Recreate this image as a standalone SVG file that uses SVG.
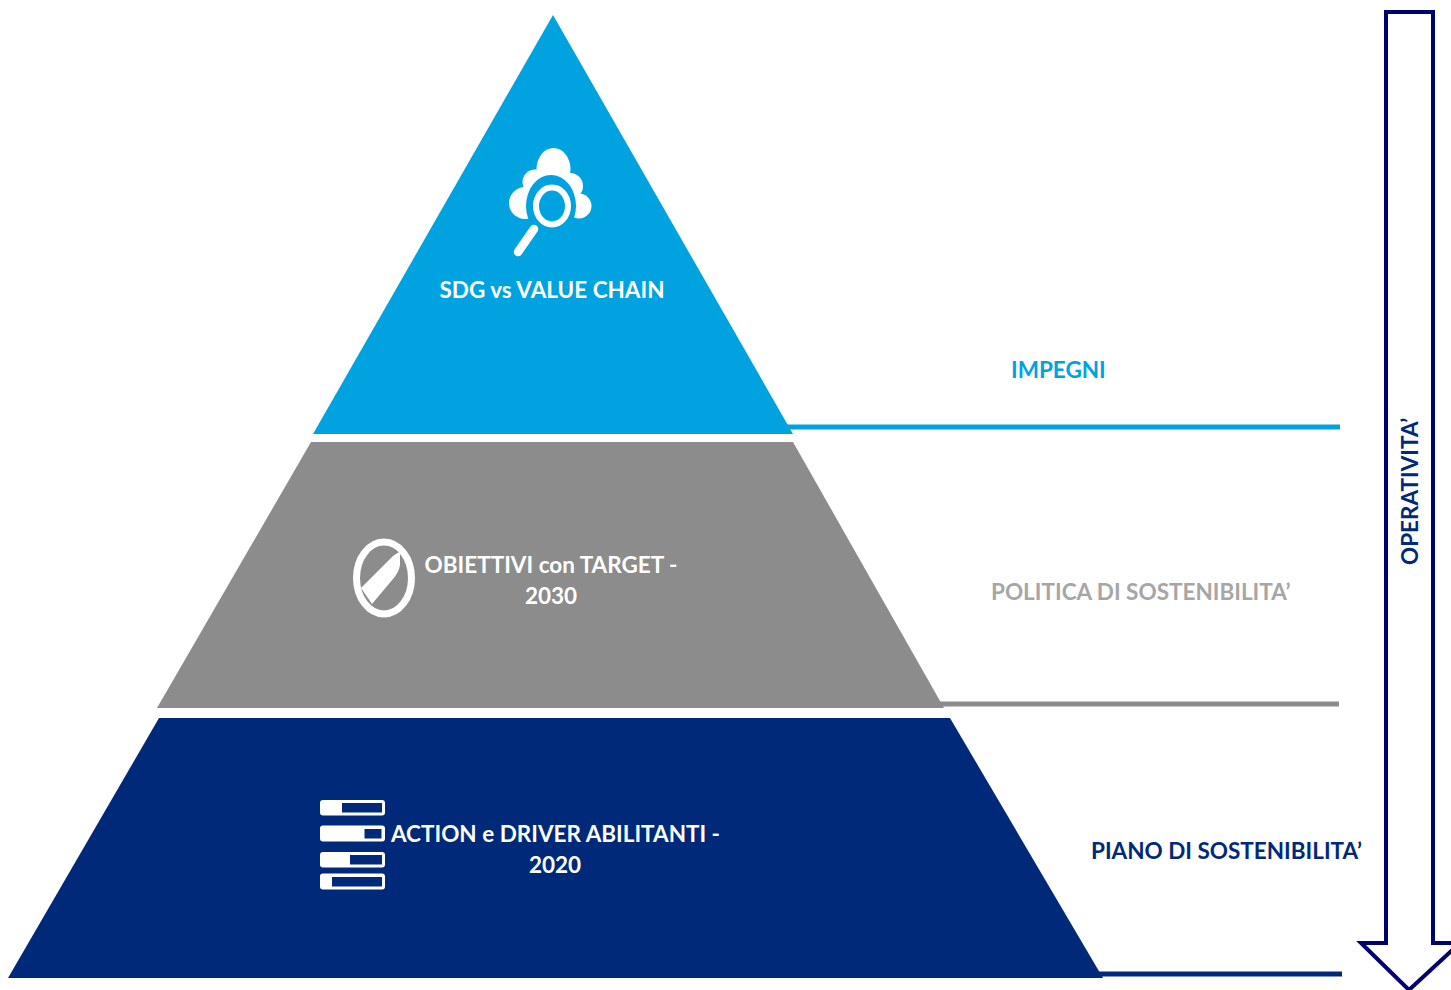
<svg xmlns="http://www.w3.org/2000/svg" width="1451" height="990" viewBox="0 0 1451 990">
<style>
text{font-family:"Lato","Liberation Sans",sans-serif;font-weight:700;font-size:22.500px}
.w{fill:#fff}
.c{text-anchor:middle}
.i{fill:#fff}
.b{fill:#00297a}
</style>
<rect width="1451" height="990" fill="#fff"/>
<g id="connectors">
<line x1="786" y1="427" x2="1340" y2="427" stroke="#00a3e0" stroke-width="5"/>
<line x1="940" y1="704" x2="1339" y2="704" stroke="#8c8c8c" stroke-width="5"/>
<line x1="1098" y1="974" x2="1342" y2="974" stroke="#00297a" stroke-width="5"/>
</g>
<g id="tier-top">
<polygon points="553,15 793,434 313,434" fill="#00a3e0"/>
<g id="icon-cloud">
<g class="i">
<ellipse cx="553.500" cy="169" rx="17" ry="21"/>
<circle cx="535" cy="182" r="12.500"/>
<circle cx="570" cy="186" r="13"/>
<circle cx="525" cy="203" r="16"/>
<ellipse cx="579" cy="206" rx="12.500" ry="12.500"/>
<rect x="525" y="180" width="50" height="36"/>
</g>
<ellipse cx="551" cy="206" rx="25" ry="31" fill="#00a3e0"/>
<ellipse cx="552" cy="206" rx="16" ry="18.500" fill="none" stroke="#fff" stroke-width="6"/>
<path d="M534,229 L518,252" stroke="#fff" stroke-width="8.500" stroke-linecap="round"/>
</g>
<text class="w c" x="552" y="298">SDG vs VALUE CHAIN</text>
</g>
<g id="tier-middle">
<polygon points="311,442 793,442 944,708 157,708" fill="#8c8c8c"/>
<g id="icon-pencil">
<ellipse cx="384" cy="578" rx="27.500" ry="36" fill="none" stroke="#fff" stroke-width="7"/>
<path d="M361,588 L393,556 Q397,553 400,552 L400,565 Q399,572 393,579 L372,604 Z" class="i"/>
</g>
<text class="w c" x="551" y="573">OBIETTIVI con TARGET -</text>
<text class="w c" x="551" y="604">2030</text>
</g>
<g id="tier-bottom">
<polygon points="159,718 950,718 1103,978 8,978" class="b"/>
<g id="icon-bars">
<rect x="320" y="800" width="65" height="15.500" rx="3" class="i"/><rect x="342" y="803" width="40" height="9.500" class="b"/>
<rect x="320" y="825.500" width="65" height="16" rx="3" class="i"/><rect x="364.500" y="829" width="17" height="9.500" class="b"/>
<rect x="320" y="852" width="65" height="15.500" rx="3" class="i"/><rect x="350" y="855" width="32" height="9.500" class="b"/>
<rect x="320" y="873.500" width="65" height="16" rx="3" class="i"/><rect x="332" y="877" width="50" height="9.500" class="b"/>
</g>
<text class="w c" x="555.500" y="842">ACTION e DRIVER ABILITANTI -</text>
<text class="w c" x="555" y="873">2020</text>
</g>
<g id="label-impegni"><text x="1011" y="378" fill="#00a3e0">IMPEGNI</text></g>
<g id="label-politica"><text x="991" y="600" fill="#a6a6a6">POLITICA DI SOSTENIBILITA’</text></g>
<g id="label-piano"><text x="1091" y="859" fill="#00297a">PIANO DI SOSTENIBILITA’</text></g>
<g id="arrow-operativita">
<polygon points="1386,12 1433,12 1433,943 1460,943 1409,990 1361,943 1386,943" fill="#fff" stroke="#00006e" stroke-width="4"/>
<text transform="translate(1418,565) rotate(-90)" fill="#00297a">OPERATIVITA’</text>
</g>
</svg>
